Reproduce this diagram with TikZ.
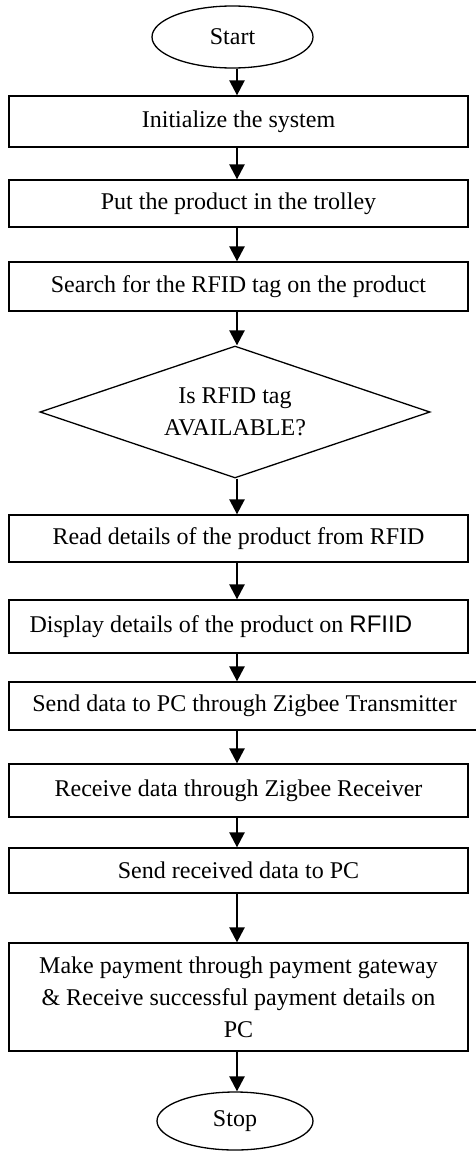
\documentclass[tikz,border=0pt]{standalone}
\usepackage{fontspec}
\setmainfont{Liberation Serif}
\newfontfamily\arialfont{Liberation Sans}
\usetikzlibrary{arrows.meta,shapes.geometric}

\begin{document}
\begin{tikzpicture}[x=1pt,y=-1pt,line join=miter,
  font=\fontsize{24}{32}\selectfont,
  box/.style={draw,line width=1.3pt,minimum width=459pt,inner sep=0pt,align=center},
  term/.style={draw,ellipse,line width=1.3pt,minimum width=158pt,minimum height=60pt,inner sep=0pt},
  test/.style={draw,diamond,aspect=3,line width=1.3pt,minimum width=390pt,minimum height=132pt,inner sep=0pt,align=center},
  flow/.style={-{Triangle[length=15pt,width=15pt]},line width=2.5pt}]
\useasboundingbox (0,0) rectangle (476,1151);
% all arrows run down one vertical line
\coordinate (axis) at (237,0);

\node[term,minimum width=161pt,minimum height=62pt] (start) at (232.5,37) {Start};
\node[box,minimum height=51pt] (init) at (238.5,121.5) {Initialize the system};
\node[box,minimum height=47pt] (put) at (238.5,203.5) {Put the product in the trolley};
\node[box,minimum height=49pt] (search) at (238.5,286.5) {Search for the RFID tag on the product};
\node[test] (decide) at (235,412) {Is RFID tag\\AVAILABLE?};
\node[box,minimum height=47pt] (read) at (238.5,538.5) {Read details of the product from RFID};
\node[box,minimum height=53pt] (disp) at (238.5,626.5)
  {\makebox[418pt][l]{Display details of the product on {\arialfont RFIID}}};
\node[box,minimum width=471pt,minimum height=48pt] (send) at (244.5,706) {Send data to PC through Zigbee Transmitter};
\node[box,minimum height=53pt] (recv) at (238.5,790.5) {Receive data through Zigbee Receiver};
\node[box,minimum height=45pt] (fwd) at (238.5,870.5) {Send received data to PC};
\node[box,minimum height=108pt] (pay) at (238.5,997)
  {Make payment through payment gateway\\\& Receive successful payment details on\\PC};
\node[term,minimum width=156pt,minimum height=58pt] (stop) at (235,1121) {Stop};

\foreach \a/\b in {start/init,init/put,put/search,search/decide,decide/read,read/disp,
                   disp/send,send/recv,recv/fwd,fwd/pay,pay/stop}
  \draw[flow] (\a.south -| axis) -- (\b.north -| axis);
\end{tikzpicture}
\end{document}
